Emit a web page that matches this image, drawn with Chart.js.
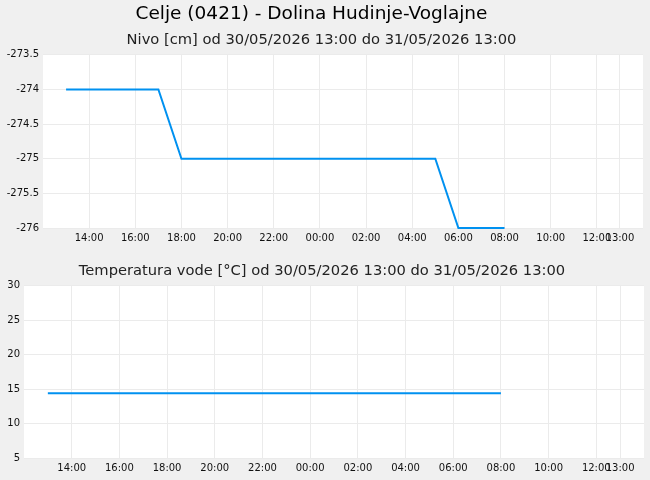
<!DOCTYPE html>
<html><head><meta charset="utf-8">
<script src="https://cdn.jsdelivr.net/npm/chart.js@4/dist/chart.umd.min.js"></script>
<style>
html,body{margin:0;padding:0;background:#f0f0f0;width:650px;height:480px;overflow:hidden;font-family:"DejaVu Sans",sans-serif;}
#w1{position:absolute;left:0;top:0;width:650px;height:250px;}
#w2{position:absolute;left:0;top:250px;width:650px;height:230px;}
</style></head><body>
<div id="w1"><canvas id="c1"></canvas></div>
<div id="w2"><canvas id="c2"></canvas></div>
<script>
// hours counted from 30/05/2026 00:00
const levelTimes = [13,14,15,16,17,18,19,20,21,22,23,24,25,26,27,28,29,30,31,32];
const levelValues = [-274,-274,-274,-274,-274,-275,-275,-275,-275,-275,-275,-275,-275,-275,-275,-275,-275,-276,-276,-276];
const tempTimes = [13,14,15,16,17,18,19,20,21,22,23,24,25,26,27,28,29,30,31,32];
const tempValues = [14.4,14.4,14.4,14.4,14.4,14.4,14.4,14.4,14.4,14.4,14.4,14.4,14.4,14.4,14.4,14.4,14.4,14.4,14.4,14.4];
const xTicks = [14,16,18,20,22,24,26,28,30,32,34,36,37];
const levelTicks = [-276,-275.5,-275,-274.5,-274,-273.5];
const tempTicks = [5,10,15,20,25,30];
const mainTitle = 'Celje (0421) - Dolina Hudinje-Voglajne';
const levelTitle = 'Nivo [cm] od 30/05/2026 13:00 do 31/05/2026 13:00';
const tempTitle = 'Temperatura vode [°C] od 30/05/2026 13:00 do 31/05/2026 13:00';

const FONT = '"DejaVu Sans", sans-serif';
const LINE = '#0091f0';
const GRID = '#ebebeb';

const bgPlugin = {
  id:'bg',
  beforeDraw(chart){
    const {ctx, chartArea:a} = chart;
    ctx.save(); ctx.fillStyle='#ffffff';
    ctx.fillRect(a.left,a.top,a.right-a.left,a.bottom-a.top);
    ctx.restore();
  }
};
const titleShift = {
  id:'titleShift',
  afterLayout(chart, args, opts){
    if (chart.titleBlock && opts.shift) chart.titleBlock.right -= opts.shift;
  }
};

function xScale(){
  return {
    type:'linear', min:12, max:38,
    afterBuildTicks(s){ s.ticks = xTicks.map(v=>({value:v})); },
    ticks:{autoSkip:false,maxRotation:0,color:'#111',font:{family:FONT,size:10},padding:4,
      callback:(v)=>String(v%24).padStart(2,'0')+':00'},
    grid:{color:GRID,drawTicks:false,lineWidth:1},
    border:{display:false}
  };
}
function pts(t,v){ return t.map((x,i)=>({x:x,y:v[i]})); }

Chart.defaults.animation=false;
new Chart(document.getElementById('c1'),{
  type:'line',
  data:{datasets:[{data:pts(levelTimes,levelValues),borderColor:LINE,borderWidth:2,pointRadius:0,tension:0,fill:false,clip:4}]},
  options:{
    responsive:true,maintainAspectRatio:false,
    layout:{padding:{left:0,right:7,top:3,bottom:2}},
    plugins:{legend:{display:false},tooltip:{enabled:false},titleShift:{shift:20},
      title:{display:true,text:mainTitle,color:'#000',font:{family:FONT,size:18.5,weight:'normal'},padding:{top:0,bottom:6}},
      subtitle:{display:true,text:levelTitle,color:'#222',font:{family:FONT,size:14.7,weight:'normal'},padding:{top:0,bottom:6}}},
    scales:{
      x:xScale(),
      y:{min:-276,max:-273.5,afterBuildTicks(s){s.ticks=levelTicks.map(v=>({value:v}));},
        afterFit(s){s.width=43;},
        ticks:{color:'#111',font:{family:FONT,size:10},padding:4,callback:v=>String(v)},
        grid:{color:GRID,drawTicks:false},border:{display:false}}
    }
  },
  plugins:[bgPlugin,titleShift]
});
new Chart(document.getElementById('c2'),{
  type:'line',
  data:{datasets:[{data:pts(tempTimes,tempValues),borderColor:LINE,borderWidth:2,pointRadius:0,tension:0,fill:false,clip:4}]},
  options:{
    responsive:true,maintainAspectRatio:false,
    layout:{padding:{left:0,right:6,top:12,bottom:2}},
    plugins:{legend:{display:false},tooltip:{enabled:false},
      title:{display:true,text:tempTitle,color:'#222',font:{family:FONT,size:14.7,weight:'normal'},padding:{top:0,bottom:6}}},
    scales:{
      x:xScale(),
      y:{min:5,max:30,afterBuildTicks(s){s.ticks=tempTicks.map(v=>({value:v}));},
        afterFit(s){s.width=24;},
        ticks:{color:'#111',font:{family:FONT,size:10},padding:4},
        grid:{color:GRID,drawTicks:false},border:{display:false}}
    }
  },
  plugins:[bgPlugin]
});
</script>
</body></html>
